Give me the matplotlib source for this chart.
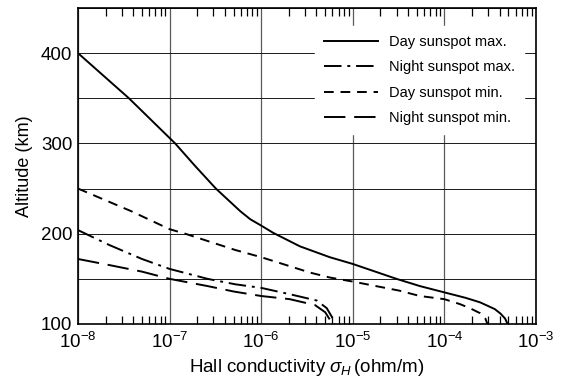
import matplotlib
matplotlib.use("Agg")
import matplotlib.pyplot as plt
from matplotlib.ticker import LogLocator, MultipleLocator, NullFormatter

plt.rcParams['font.family'] = ['Liberation Sans', 'DejaVu Sans']
plt.rcParams['mathtext.fontset'] = 'custom'
plt.rcParams['mathtext.rm'] = 'Liberation Sans'
plt.rcParams['mathtext.it'] = 'Liberation Sans:italic'
plt.rcParams['mathtext.bf'] = 'Liberation Sans:bold'

# Day sunspot max
day_max_sigma = [1e-8, 3.6e-8, 1e-7, 1.15e-7, 1.9e-7, 3.2e-7, 5.9e-7, 7.6e-7, 1e-6, 1.35e-6,
                 2.65e-6, 5.6e-6, 1e-5, 3.0e-5, 5.4e-5, 1e-4, 1.7e-4, 2.45e-4, 3.55e-4,
                 4.1e-4, 4.6e-4, 4.9e-4]
day_max_alt = [400, 350, 306, 300, 275, 250, 225, 216, 209, 201,
               186, 174, 166.5, 150, 142, 135, 129, 124, 116.5,
               111.5, 106, 100]

# Night sunspot max
night_max_sigma = [1e-8, 2.14e-8, 5e-8, 1e-7, 2.6e-7, 5.2e-7, 1e-6, 2.05e-6, 4.04e-6,
                   5.19e-6, 5.9e-6, 6.2e-6, 6.3e-6]
night_max_alt = [204, 188, 172, 161, 150, 144, 140, 133, 126,
                 117.6, 108, 103, 100]

# Day sunspot min
day_min_sigma = [1e-8, 3.8e-8, 1e-7, 1.48e-7, 5.2e-7, 1e-6, 3.4e-6, 5.6e-6, 1e-5,
                 3.2e-5, 5.4e-5, 1e-4, 1.48e-4, 1.9e-4, 2.45e-4, 2.8e-4, 2.95e-4]
day_min_alt = [250, 225, 205, 200, 182, 174, 157, 151.5, 147,
               137, 131, 127.5, 122, 117.5, 112, 106, 100]

# Night sunspot min
night_min_sigma = [1e-8, 2.14e-8, 5e-8, 1e-7, 2.6e-7, 5e-7, 1e-6, 2.05e-6, 3.86e-6,
                   5.0e-6, 5.65e-6, 5.8e-6]
night_min_alt = [172, 165.5, 158, 150, 142, 136, 131, 127.5, 121,
                 113, 104.4, 100]

labels = ["Day sunspot max.", "Night sunspot max.", "Day sunspot min.", "Night sunspot min."]

fig = plt.figure(figsize=(5.64, 3.83), dpi=100)
ax = fig.add_axes([78/564, 59/383, 458/564, 316/383])

lw = 1.4
ax.plot(day_max_sigma, day_max_alt, color='black', lw=lw, ls='-', label=labels[0])
ax.plot(night_max_sigma, night_max_alt, color='black', lw=lw, ls=(0, (9, 3, 1.5, 3)), label=labels[1])
ax.plot(day_min_sigma, day_min_alt, color='black', lw=lw, ls=(0, (5, 3.5)), label=labels[2])
ax.plot(night_min_sigma, night_min_alt, color='black', lw=lw, ls=(0, (11, 4.5)), label=labels[3])

ax.set_xscale('log')
ax.set_xlim(1e-8, 1e-3)
ax.set_ylim(100, 450)

ax.xaxis.set_major_locator(LogLocator(base=10, numticks=10))
ax.xaxis.set_minor_locator(LogLocator(base=10, subs=range(2, 10), numticks=20))
ax.xaxis.set_minor_formatter(NullFormatter())
ax.yaxis.set_major_locator(MultipleLocator(100))
ax.yaxis.set_minor_locator(MultipleLocator(50))

ax.tick_params(axis='x', which='both', direction='in', top=True, bottom=True, labelsize=13.5, pad=6)
ax.tick_params(axis='x', which='minor', length=6, width=0.9)
ax.tick_params(axis='x', which='major', length=0)
ax.tick_params(axis='y', which='both', length=0, labelsize=13.5, pad=4)

ax.grid(True, which='major', axis='x', color='0.35', lw=0.9)
ax.grid(True, which='both', axis='y', color='0.1', lw=0.7)
ax.set_axisbelow(True)

for s in ax.spines.values():
    s.set_linewidth(1.2)

ax.set_xlabel(r"Hall conductivity $\sigma_H\,$(ohm/m)", fontsize=13.5, labelpad=3)
ax.set_ylabel("Altitude (km)", fontsize=13, labelpad=6)

leg = ax.legend(loc='upper right', bbox_to_anchor=(0.99, 0.965), frameon=True, fontsize=10.5,
                handlelength=3.7, handletextpad=0.8, labelspacing=0.78,
                borderpad=0.6, fancybox=False)
leg.get_frame().set_edgecolor('white')
leg.get_frame().set_facecolor('white')
leg.get_frame().set_alpha(1.0)

fig.savefig("out.png", dpi=100)
